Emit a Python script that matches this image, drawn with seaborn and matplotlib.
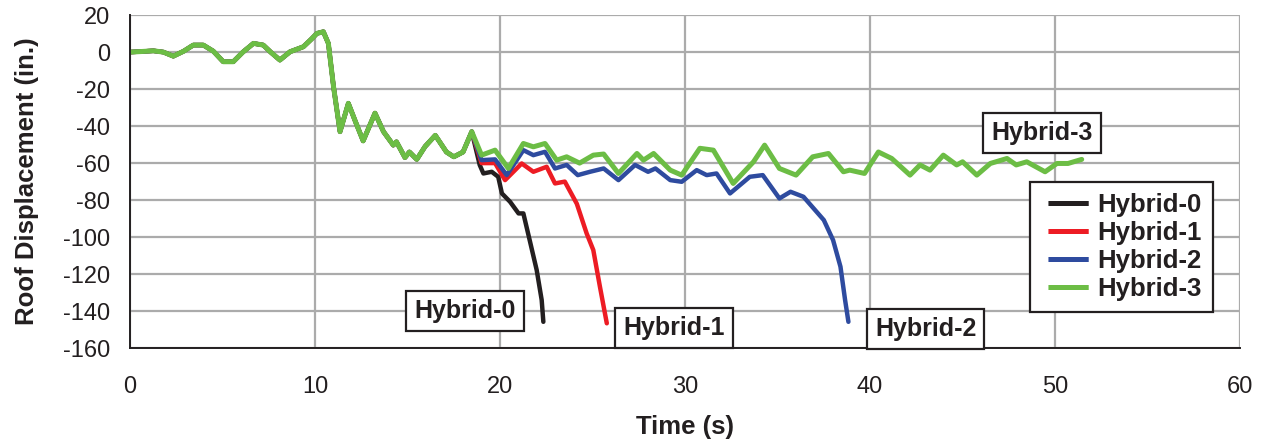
import matplotlib
matplotlib.use("Agg")
import matplotlib.pyplot as plt
import seaborn as sns
import pandas as pd

# ---- data ----
# shared response before the models separate (~18.5 s)
t_common = [0.0, 0.6, 1.26, 1.8, 2.34, 2.9, 3.42, 3.96, 4.5, 5.04, 5.58, 6.1, 6.67,
            7.2, 7.6, 8.1, 8.65, 9.0, 9.37, 9.8, 10.1, 10.45, 10.72, 11.0, 11.35,
            11.8, 12.2, 12.6, 13.24, 13.7, 14.23, 14.4, 14.86, 15.1, 15.5, 15.95,
            16.5, 17.1, 17.5, 18.0, 18.47]
d_common = [0.0, 0.3, 0.7, 0.0, -2.2, 0.5, 3.8, 3.8, 0.5, -5.2, -5.2, 0.0, 4.7,
            3.8, 0.0, -4.3, 0.2, 1.5, 2.9, 7.0, 10.1, 11.0, 4.7, -18.8, -43.0,
            -27.7, -38.0, -48.0, -33.0, -43.0, -50.3, -48.5, -57.0, -54.0, -58.0, -51.0,
            -45.0, -54.0, -56.6, -54.0, -43.0]

t_h0 = [18.9, 19.1, 19.55, 19.9, 20.1, 20.54, 21.0, 21.26, 21.6, 21.98, 22.25, 22.34]
d_h0 = [-61.0, -65.6, -64.7, -67.4, -76.4, -80.9, -87.2, -87.2, -101.6, -117.8, -134.0, -145.8]

t_h1 = [19.0, 19.73, 20.27, 21.17, 21.8, 22.52, 22.97, 23.5, 24.15, 24.68, 25.04, 25.4, 25.77]
d_h1 = [-60.0, -60.0, -69.2, -60.2, -64.7, -62.0, -71.0, -70.0, -82.0, -98.0, -107.0, -126.9, -146.6]

t_h2 = [19.0, 19.73, 20.36, 21.26, 21.8, 22.43, 22.97, 23.6, 24.2, 24.86, 25.6, 26.4,
        27.3, 28.0, 28.4, 29.2, 29.82, 30.63, 31.17, 31.7, 32.43, 33.5, 34.2, 35.1,
        35.7, 36.4, 37.5, 38.0, 38.4, 38.65, 38.83]
d_h2 = [-58.4, -58.0, -66.5, -53.0, -55.7, -53.9, -62.9, -61.0, -66.5, -64.7, -62.9, -69.2,
        -61.0, -64.7, -62.9, -69.2, -70.1, -63.8, -66.5, -65.6, -76.4, -67.4, -66.5, -79.1,
        -75.5, -78.2, -90.8, -101.6, -116.0, -134.0, -145.8]

t_h3 = [19.0, 19.73, 20.45, 21.26, 21.8, 22.43, 23.06, 23.6, 24.3, 25.04, 25.6, 26.4,
        27.4, 27.75, 28.3, 29.2, 29.82, 30.8, 31.53, 32.6, 33.7, 34.3, 35.1, 36.0,
        36.9, 37.75, 38.56, 38.9, 39.7, 40.45, 41.17, 42.16, 42.7, 43.24, 43.96,
        44.68, 45.0, 45.77, 46.5, 47.4, 47.9, 48.47, 49.46, 50.1, 50.7, 51.44]
d_h3 = [-55.7, -53.0, -62.9, -49.4, -51.2, -49.4, -58.4, -56.6, -60.0, -55.7, -55.1, -65.6,
        -54.8, -58.4, -54.8, -63.8, -66.5, -52.0, -53.0, -71.0, -59.3, -50.3, -62.9, -66.5,
        -56.6, -54.8, -64.7, -63.8, -65.6, -54.0, -57.5, -66.5, -61.0, -63.8, -55.7,
        -61.0, -59.3, -66.5, -60.2, -57.5, -61.0, -59.3, -64.7, -60.2, -60.2, -58.0]

models = ["Hybrid-0", "Hybrid-1", "Hybrid-2", "Hybrid-3"]
tails = {"Hybrid-0": (t_h0, d_h0), "Hybrid-1": (t_h1, d_h1),
         "Hybrid-2": (t_h2, d_h2), "Hybrid-3": (t_h3, d_h3)}
colors = {"Hybrid-0": "#231f20", "Hybrid-1": "#ed1c24",
          "Hybrid-2": "#2e4b9f", "Hybrid-3": "#6cbd45"}

# annotation label positions (data coords)
label_pos = {"Hybrid-0": (18.1, -140.0), "Hybrid-1": (29.4, -149.3),
             "Hybrid-2": (43.0, -149.7), "Hybrid-3": (49.3, -43.8)}

frames = []
for m in models:
    t, d = tails[m]
    frames.append(pd.DataFrame({"Time": t_common + t, "Disp": d_common + d, "Model": m}))
df = pd.concat(frames, ignore_index=True)

# ---- plot ----
sns.set_style("white")
plt.rcParams["font.family"] = ["Liberation Sans", "DejaVu Sans"]
plt.rcParams["axes.unicode_minus"] = False
plt.rcParams["lines.scale_dashes"] = False
txt = "#231f20"

fig = plt.figure(figsize=(12.65, 4.44), dpi=100)
ax = fig.add_axes([0.1028, 0.216, 0.8775, 0.75])

sns.lineplot(data=df, x="Time", y="Disp", hue="Model", hue_order=models,
             palette=colors, sort=False, estimator=None, linewidth=3.2,
             ax=ax, legend=False)
ax.lines[-1].set_linewidth(3.6)

ax.set_xlim(0, 60)
ax.set_ylim(-160, 20)
ax.set_xticks(range(0, 61, 10))
ax.set_yticks(range(-160, 21, 20))
ax.grid(True, color="#ababab", linewidth=1.6)
ax.set_axisbelow(True)
for s in ["top", "right"]:
    ax.spines[s].set_visible(False)
for s in ["left", "bottom"]:
    ax.spines[s].set_color(txt)
    ax.spines[s].set_linewidth(1.4)
ax.tick_params(axis="both", direction="inout", length=12.2, width=1.4, color=txt,
               labelsize=17, labelcolor=txt)
ax.tick_params(axis="y", pad=8.4)
ax.tick_params(axis="x", pad=14)

ax.set_xlabel("Time (s)", fontsize=18.5, fontweight="bold", color=txt, labelpad=12)
ax.set_ylabel("Roof Displacement (in.)", fontsize=18.5, fontweight="bold", color=txt, labelpad=17)

for m in models:
    x, y = label_pos[m]
    ax.text(x, y, m, fontsize=18, fontweight="bold", color=txt, ha="center", va="center",
            bbox=dict(boxstyle="square,pad=0.32", facecolor="white", edgecolor=txt, linewidth=1.6),
            zorder=5)

# legend handles start a little inside the frame, like the reference
handles = [plt.Line2D([], [], color=colors[m], linewidth=3.6,
                      linestyle=(96.0, (29.0, 72.0))) for m in models]
leg = ax.legend(handles, models, loc="upper left", bbox_to_anchor=(0.811, 0.4985),
                frameon=True, fancybox=False, handlelength=2.0, handletextpad=0.2,
                borderpad=0.42, labelspacing=0.16, borderaxespad=0,
                prop={"weight": "bold", "size": 18.5})
leg.get_frame().set_edgecolor(txt)
leg.get_frame().set_linewidth(1.6)
leg.get_frame().set_alpha(1)
for t in leg.get_texts():
    t.set_color(txt)
leg.set_zorder(6)

fig.savefig("out.png", dpi=100)
